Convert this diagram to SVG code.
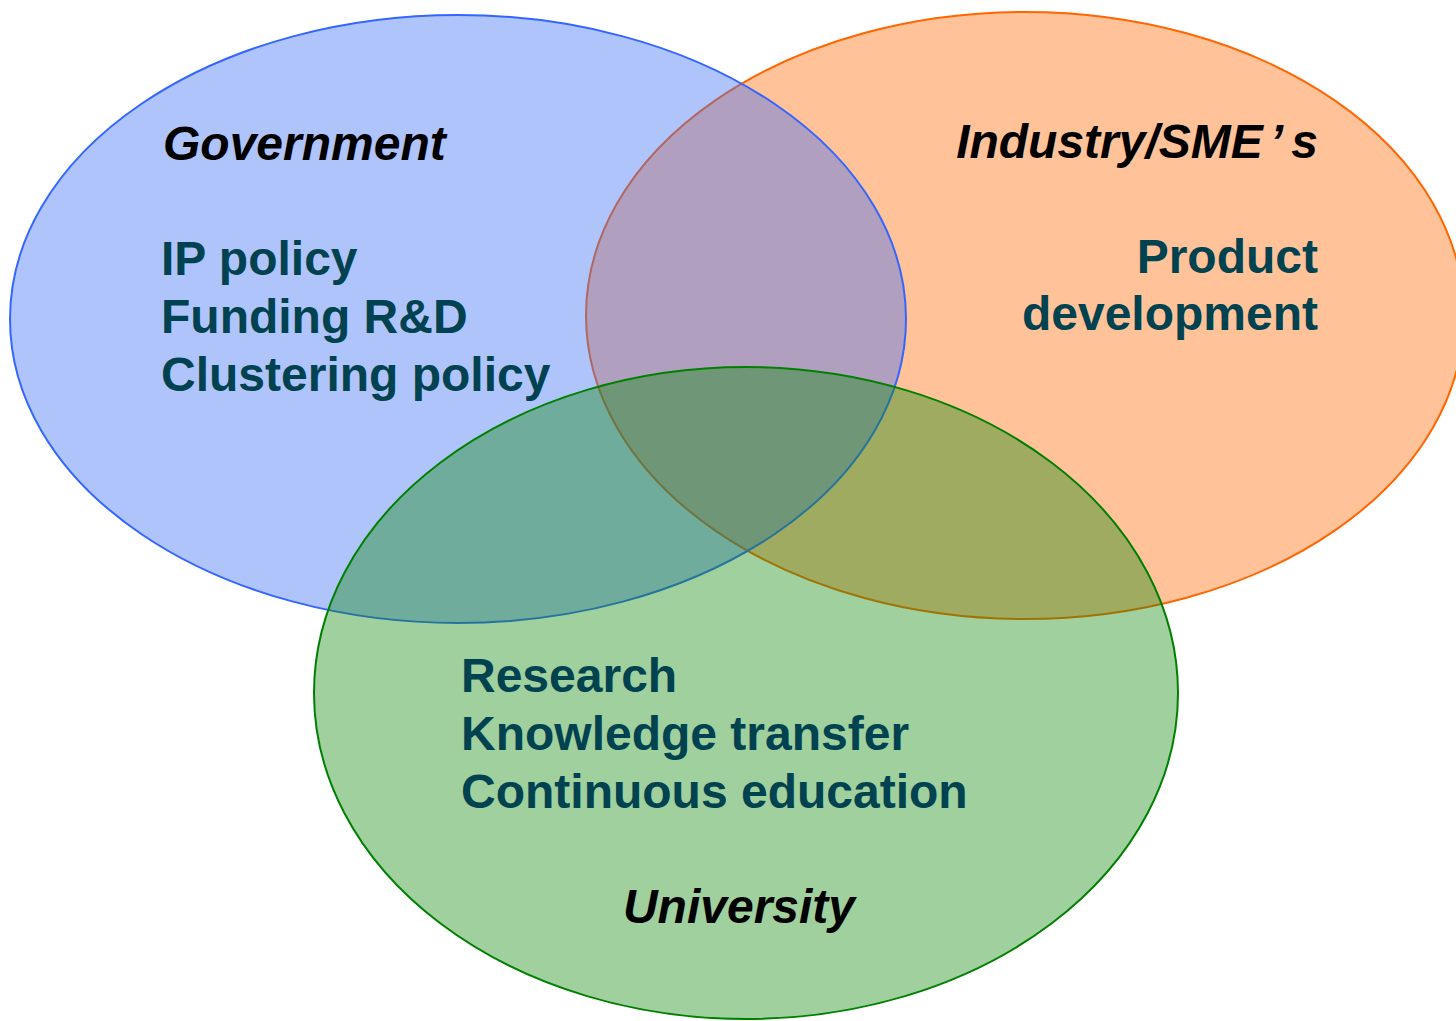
<svg xmlns="http://www.w3.org/2000/svg" width="1456" height="1021" viewBox="0 0 1456 1021">
<style>
.set{fill-opacity:0.4;stroke-width:2}
.title{font-family:"Liberation Sans",Arial,sans-serif;font-weight:bold;font-style:italic;font-size:48px;fill:#000}
.item{font-family:"Liberation Sans",Arial,sans-serif;font-weight:bold;font-size:48px;fill:#00424f}
</style>
<rect width="1456" height="1021" fill="#fff"/>
<g id="industry">
<ellipse class="set" cx="1025" cy="315.5" rx="439" ry="303.5" fill="#ff6600" stroke="#ff6600"/>
<text class="title" x="1318" y="158" text-anchor="end">Industry/SME<tspan dx="7">’</tspan><tspan dx="9">s</tspan></text>
<text class="item" x="1318" y="273" text-anchor="end">Product</text>
<text class="item" x="1318" y="330" text-anchor="end">development</text>
</g>
<g id="government">
<ellipse class="set" cx="458" cy="319" rx="448" ry="304" fill="#3a6cf8" stroke="#3366ff"/>
<text class="title" x="163" y="160">Government</text>
<text class="item" x="161" y="275">IP policy</text>
<text class="item" x="161" y="333">Funding R&amp;D</text>
<text class="item" x="161" y="391">Clustering policy</text>
</g>
<g id="university">
<ellipse class="set" cx="746" cy="693" rx="432" ry="326" fill="#0f8a0a" stroke="#008000"/>
<text class="item" x="461" y="692">Research</text>
<text class="item" x="461" y="750">Knowledge transfer</text>
<text class="item" x="461" y="808">Continuous education</text>
<text class="title" x="739" y="923" text-anchor="middle">University</text>
</g>
<g id="connectors"/>
</svg>
